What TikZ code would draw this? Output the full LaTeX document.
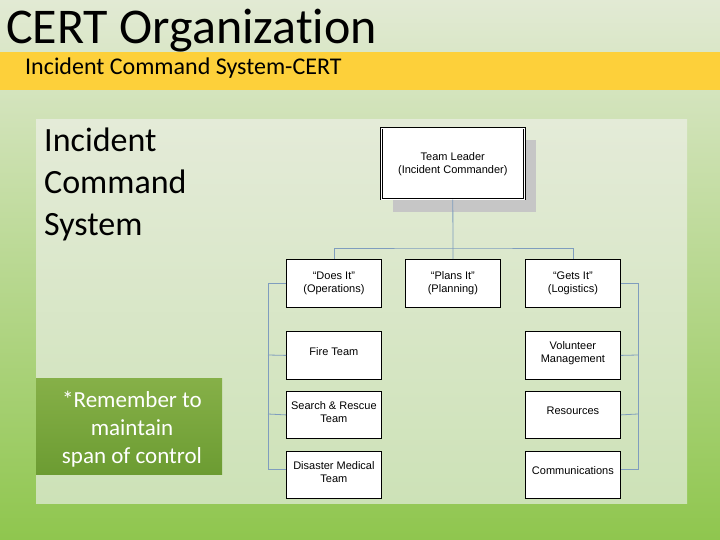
\documentclass[tikz,border=0pt]{standalone}
\usepackage{fontspec}
\setmainfont{Carlito}[Ligatures=NoCommon]
\newfontfamily\arial{Liberation Sans}
\begin{document}
\begin{tikzpicture}[x=1pt,y=-1pt,
  box/.style={draw=black,line width=0.8pt,fill=white,minimum width=95pt,minimum height=48pt,align=center,font=\arial\fontsize{11}{13}\selectfont,anchor=north west,inner sep=1pt},
  conn/.style={draw=lineblue,line width=0.8pt}]
\definecolor{lineblue}{RGB}{127,157,190}
\definecolor{band}{RGB}{253,208,58}
\useasboundingbox (0,0) rectangle (720,540);
\shade[top color={rgb,255:red,226;green,234;blue,212},bottom color={rgb,255:red,143;green,198;blue,78}] (0,0) rectangle (720,540);
\fill[band] (0,52) rectangle (720,90);
\node[anchor=west,font=\fontsize{50}{52}\selectfont,inner sep=0] (title) at (6,31) {CERT Organization};
\node[anchor=west,font=\fontsize{24}{26}\selectfont,inner sep=0] (sub) at (25,68) {Incident Command System-CERT};
\shade[top color={rgb,255:red,228;green,235;blue,216},bottom color={rgb,255:red,205;green,226;blue,183}] (36,120) rectangle (687,503);
\node[anchor=north west,align=left,font=\fontsize{34}{42}\selectfont,inner sep=0] (ics) at (44,128) {Incident\\Command\\System};
\shade[top color={rgb,255:red,134;green,176;blue,72},bottom color={rgb,255:red,108;green,156;blue,50}] (36,378) rectangle (222,474);
\node[align=center,text=white,font=\fontsize{23}{28}\selectfont,inner sep=0] (rem) at (132,429) {*Remember to\\maintain\\span of control};
% chart
\fill[gray!45] (393,140) rectangle (536,212);
\node[box,minimum width=143pt,minimum height=71pt,double,double distance=1.2pt,line width=0.6pt] (tl) at (381,128) {Team Leader\\(Incident Commander)};
\node[box] (ops) at (286,259) {“Does It”\\(Operations)};
\node[box] (plan) at (405,259) {“Plans It”\\(Planning)};
\node[box] (log) at (525,259) {“Gets It”\\(Logistics)};
\node[box,text depth=8pt] (fire) at (286,331) {Fire Team};
\node[box,minimum height=47pt,text depth=6pt] (sar) at (286,391) {Search \& Rescue\\Team};
\node[box,minimum height=47pt,text depth=6pt] (dm) at (286,451) {Disaster Medical\\Team};
\node[box,text depth=6pt] (vol) at (525,331) {Volunteer\\Management};
\node[box,minimum height=47pt,text depth=8pt] (res) at (525,391) {Resources};
\node[box,minimum height=47pt,text depth=8pt] (com) at (525,451) {Communications};
\coordinate (j) at (453,248);
\draw[conn] (tl.south) -- (j);
\draw[conn] (ops.north) |- (j) -| (log.north);
\draw[conn] (j) -- (plan.north);
\draw[conn] (ops.west) -- ++(-18,0) |- ([yshift=6pt]dm.west);
\draw[conn] (268,355) -- (fire.west);
\draw[conn] (268,414) -- (sar.west);
\draw[conn] (log.east) -- ++(18,0) |- ([yshift=6pt]com.east);
\draw[conn] (638,355) -- (vol.east);
\draw[conn] (638,414) -- (res.east);
\end{tikzpicture}
\end{document}
